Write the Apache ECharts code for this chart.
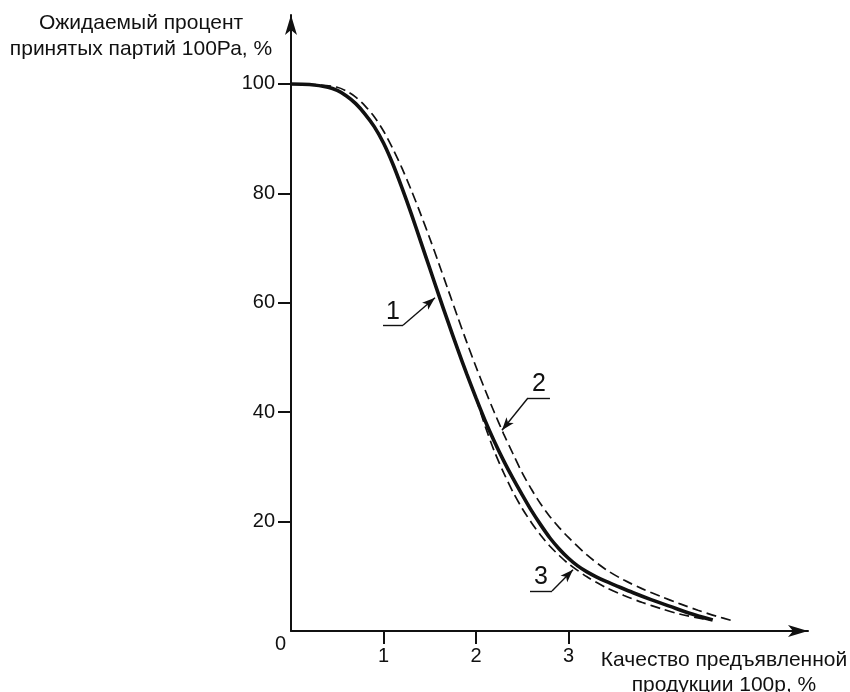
<!DOCTYPE html>
<html><head><meta charset="utf-8">
<script src="https://cdn.jsdelivr.net/npm/echarts@6/dist/echarts.min.js"></script>
<style>html,body{margin:0;padding:0;background:#fff}#c{width:850px;height:692px}</style>
</head><body><div id="c"></div>
<script>
// Data
const xTicks = [1, 2, 3];
const yTicks = [20, 40, 60, 80, 100];
const curve1 = [[0,100],[0.2,99.9],[0.4,99.4],[0.5,98.8],[0.6,97.8],[0.7,96.4],[0.8,94.5],[0.9,92.2],[1.0,89.2],[1.1,85.4],[1.2,81.0],[1.3,76.3],[1.4,71.3],[1.5,66.3],[1.6,61.3],[1.7,56.4],[1.8,51.6],[1.9,47.0],[2.0,42.6],[2.1,38.4],[2.2,34.6],[2.3,31.1],[2.4,27.9],[2.5,24.9],[2.6,22.0],[2.7,19.4],[2.8,17.0],[2.9,15.0],[3.0,13.3],[3.1,11.9],[3.2,10.8],[3.3,9.9],[3.4,9.1],[3.5,8.4],[3.7,7.0],[3.9,5.7],[4.1,4.5],[4.3,3.3],[4.56,2.0]];
const curve2 = [[0,100],[0.25,99.9],[0.5,99.4],[0.6,98.7],[0.7,97.6],[0.8,96.0],[0.9,94.0],[1.0,91.4],[1.1,88.2],[1.2,84.6],[1.3,80.6],[1.4,76.3],[1.5,71.8],[1.6,67.1],[1.7,62.3],[1.8,57.5],[1.9,52.8],[2.0,48.3],[2.1,44.0],[2.2,39.9],[2.3,36.0],[2.4,32.4],[2.5,28.9],[2.6,25.9],[2.7,23.2],[2.8,20.9],[2.9,18.9],[3.0,17.1],[3.2,13.9],[3.4,11.3],[3.6,9.3],[3.8,7.7],[4.0,6.3],[4.2,5.0],[4.4,3.8],[4.6,2.7],[4.77,1.9]];
const curve3 = [[2.0,42.6],[2.1,37.4],[2.2,32.8],[2.3,28.9],[2.4,25.4],[2.5,22.4],[2.6,19.8],[2.7,17.5],[2.8,15.5],[2.9,13.8],[3.0,12.3],[3.2,9.9],[3.4,8.0],[3.6,6.5],[3.8,5.2],[4.0,4.1],[4.2,3.1],[4.4,2.4],[4.53,2.0]];
const curveLabels = ['1', '2', '3'];
// annotation anchors (data coords): underline start, underline end, arrow tip
const notes = [
  {u0:[0.995,55.9], u1:[1.211,55.9], tip:[1.557,60.9], from:'u1'},
  {u0:[2.562,42.6], u1:[2.80,42.6], tip:[2.281,36.7], from:'u0'},
  {u0:[2.584,7.3], u1:[2.822,7.3], tip:[3.049,11.2], from:'u1'}
];
const yTitle = 'Ожидаемый процент\nпринятых партий 100Ра, %';
const xTitle = 'Качество предъявленной\nпродукции 100р, %';

const FONT = 'Liberation Sans, Arial, sans-serif';
const INK = '#111';

function noteLines(n, label) {
  return [
    [{coord:n.u0, label:{show:true, formatter:label, position:'insideMiddleTop', distance:1, fontSize:25, color:INK, fontFamily:FONT}, symbol:'none'},
     {coord:n.u1, symbol:'none'}],
    [{coord:n[n.from], symbol:'none', label:{show:false}}, {coord:n.tip, symbol:'arrow', symbolSize:[7,13]}]
  ];
}
function mk(i) {
  return {
    silent: true, animation: false, symbol: ['none','arrow'],
    lineStyle: {color: INK, width: 1.4, type: 'solid'},
    label: {show: false},
    emphasis: {disabled: true},
    data: noteLines(notes[i], curveLabels[i])
  };
}

const chart = echarts.init(document.getElementById('c'), null, {renderer:'canvas'});
chart.setOption({
  animation: false,
  backgroundColor: '#fff',
  grid: {left: 291, right: 42, top: 15, bottom: 61, containLabel: false},
  xAxis: {
    type: 'value', min: 0, max: 5.59,
    axisLine: {show: true, symbol: ['none','arrow'], symbolSize: [9,20], lineStyle: {color: INK, width: 2}},
    axisTick: {show: true, customValues: xTicks, length: 13, inside: false, lineStyle: {color: INK, width: 2}},
    axisLabel: {customValues: xTicks, margin: 15, fontSize: 20, color: INK, fontFamily: FONT},
    splitLine: {show: false}
  },
  yAxis: {
    type: 'value', min: 0, max: 112.6,
    axisLine: {show: true, symbol: ['none','arrow'], symbolSize: [9,20], lineStyle: {color: INK, width: 2}},
    axisTick: {show: true, customValues: yTicks, length: 13, inside: false, lineStyle: {color: INK, width: 2}},
    axisLabel: {customValues: yTicks, margin: 16, fontSize: 20, color: INK, fontFamily: FONT},
    splitLine: {show: false}
  },
  series: [
    {type:'line', data: curve1, showSymbol:false, smooth:0.3, lineStyle:{color:INK, width:3.6}, z:3, markLine: mk(0)},
    {type:'line', data: curve2, showSymbol:false, smooth:0.3, lineStyle:{color:INK, width:1.7, type:[10,5]}, z:2, markLine: mk(1)},
    {type:'line', data: curve3, showSymbol:false, smooth:0.3, lineStyle:{color:INK, width:1.7, type:[10,5]}, z:2, markLine: mk(2)}
  ]
});
const o = chart.convertToPixel({gridIndex:0}, [0,0]);
chart.setOption({
  graphic: [
    {type:'text', x:141, y:10, style:{text:yTitle, fontSize:21, lineHeight:26, fontFamily:FONT, fill:INK, align:'center', verticalAlign:'top'}},
    {type:'text', x:724, y:648, style:{text:xTitle, fontSize:21, lineHeight:25, fontFamily:FONT, fill:INK, align:'center', verticalAlign:'top'}},
    {type:'text', x:o[0]-16, y:o[1]+3, style:{text:'0', fontSize:20, fontFamily:FONT, fill:INK, align:'left', verticalAlign:'top'}}
  ]
});
</script></body></html>
